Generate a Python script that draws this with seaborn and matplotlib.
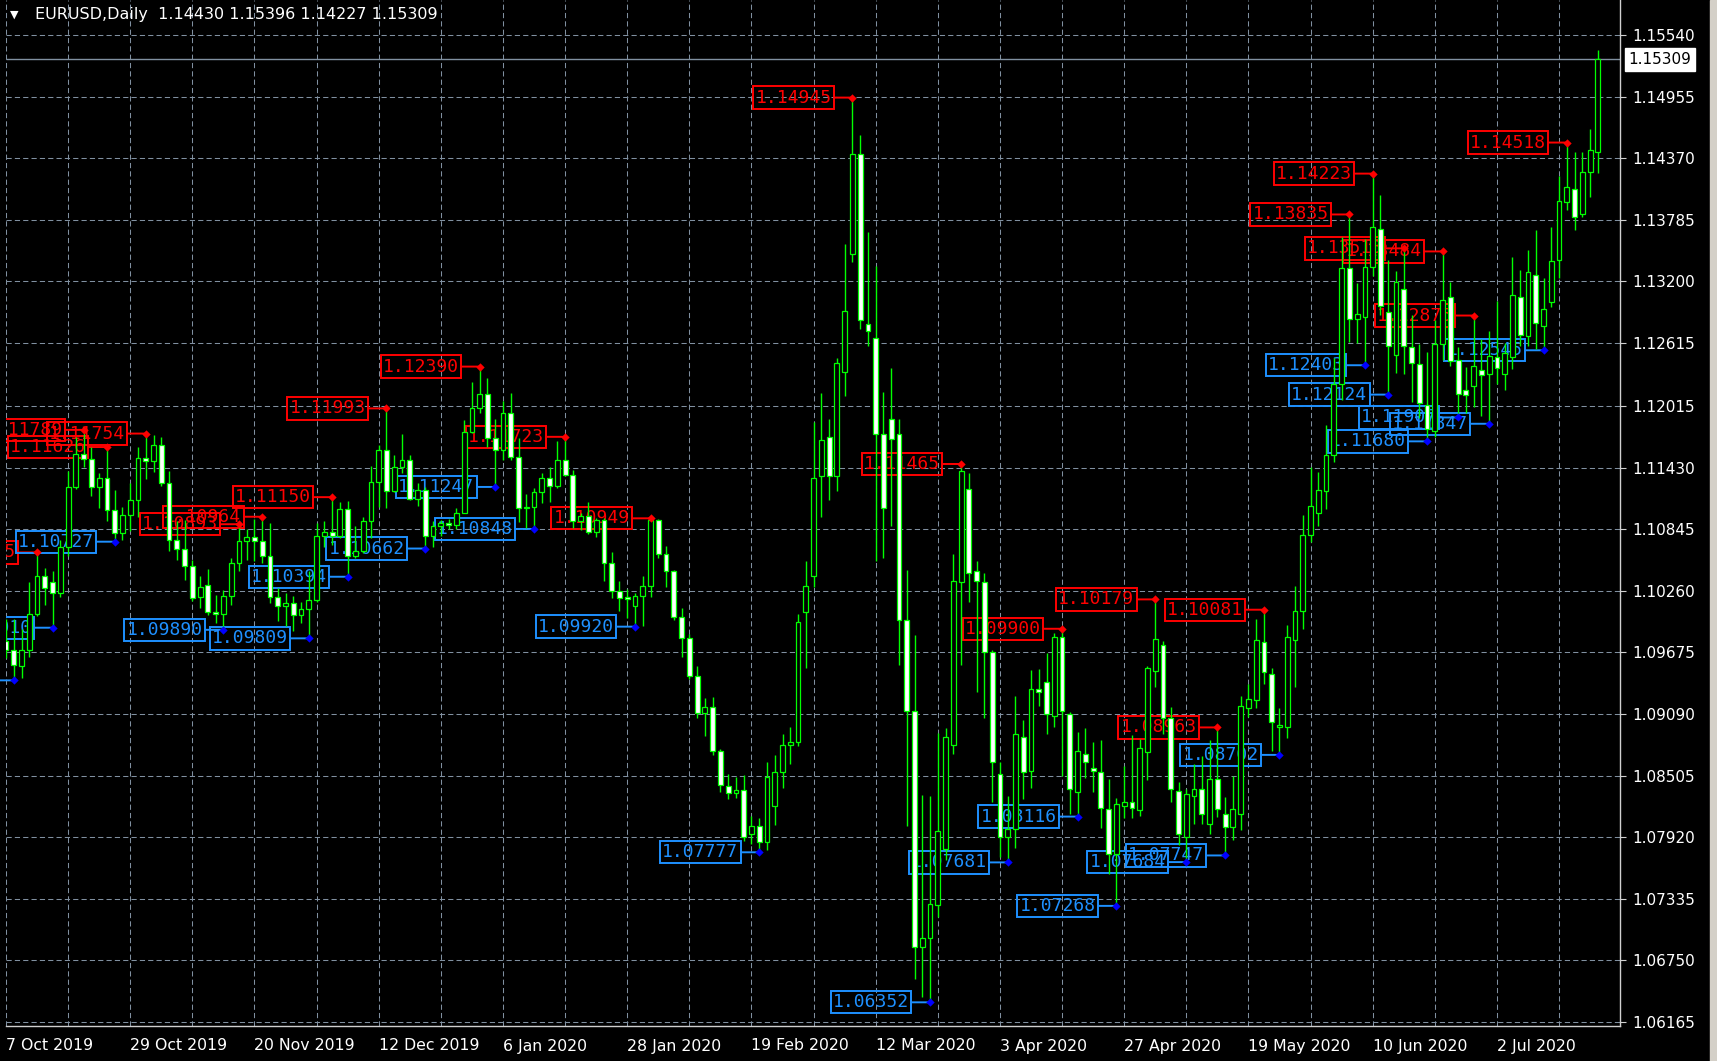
import numpy as np
import pandas as pd
import seaborn as sns
import matplotlib.pyplot as plt
from matplotlib.patches import Rectangle
from matplotlib.ticker import FixedLocator

# EURUSD daily bars, 7 Oct 2019 - 21 Jul 2020 (this feed has no bar on 1 Jan)
dates = pd.bdate_range("2019-10-07", "2020-07-21")
dates = dates[dates != pd.Timestamp("2020-01-01")]

opens = [1.0978, 1.0970, 1.0955, 1.0970, 1.1004, 1.1040, 1.1034, 1.1024, 1.1068, 1.1125,
         1.1156, 1.1151, 1.1125, 1.1133, 1.1103, 1.1081, 1.1098, 1.1112, 1.1152, 1.1149,
         1.1165, 1.1128, 1.1074, 1.1066, 1.1050, 1.1020, 1.1032, 1.1006, 1.1004, 1.1021,
         1.1052, 1.1073, 1.1077, 1.1073, 1.1059, 1.1020, 1.1012, 1.1014, 1.1003, 1.1009,
         1.1017, 1.1078, 1.1082, 1.1078, 1.1104, 1.1059, 1.1064, 1.1092, 1.1129, 1.1160,
         1.1121, 1.1144, 1.1150, 1.1113, 1.1122, 1.1078, 1.1088, 1.1090, 1.1089, 1.1100,
         1.1177, 1.1200, 1.1213, 1.1171, 1.1160, 1.1195, 1.1153, 1.1105, 1.1106, 1.1120,
         1.1133, 1.1126, 1.1150, 1.1136, 1.1092, 1.1097, 1.1082, 1.1093, 1.1052, 1.1026,
         1.1020, 1.1012, 1.1021, 1.1031, 1.1093, 1.1061, 1.1045, 1.1001, 1.0981, 1.0945,
         1.0910, 1.0916, 1.0874, 1.0841, 1.0834, 1.0837, 1.0795, 1.0803, 1.0787, 1.0822,
         1.0854, 1.0880, 1.0882, 1.1006, 1.1040, 1.1135, 1.1172, 1.1135, 1.1234, 1.1346,
         1.1441, 1.1279, 1.1266, 1.1175, 1.1189, 1.1175, 1.0998, 1.0912, 1.0688, 1.0696,
         1.0728, 1.0781, 1.0880, 1.1034, 1.1123, 1.1045, 1.1034, 1.0968, 1.0852, 1.0792,
         1.0800, 1.0887, 1.0855, 1.0933, 1.0939, 1.0907, 1.0982, 1.0909, 1.0835, 1.0871,
         1.0858, 1.0854, 1.0819, 1.0776, 1.0822, 1.0825, 1.0818, 1.0873, 1.0950, 1.0975,
         1.0905, 1.0836, 1.0792, 1.0831, 1.0838, 1.0805, 1.0847, 1.0814, 1.0802, 1.0814,
         1.0915, 1.0922, 1.0977, 1.0947, 1.0897, 1.0897, 1.0979, 1.1007, 1.1079, 1.1100,
         1.1121, 1.1155, 1.1222, 1.1333, 1.1284, 1.1286, 1.1334, 1.1370, 1.1291, 1.1250,
         1.1313, 1.1258, 1.1241, 1.1203, 1.1178, 1.1260, 1.1305, 1.1245, 1.1217, 1.1221,
         1.1236, 1.1232, 1.1248, 1.1232, 1.1248, 1.1305, 1.1268, 1.1326, 1.1278, 1.1300,
         1.1340, 1.1395, 1.1408, 1.1384, 1.1424, 1.14430]
highs = [1.0999, 1.0999, 1.0990, 1.1034, 1.10625, 1.1048, 1.1045, 1.1074, 1.1140, 1.1172,
         1.11789, 1.1163, 1.1138, 1.11626, 1.1122, 1.1106, 1.1128, 1.1163, 1.11754, 1.1174,
         1.1172, 1.1140, 1.1092, 1.1093, 1.1055, 1.1040, 1.1047, 1.1022, 1.1027, 1.1057,
         1.10893, 1.1085, 1.1094, 1.10964, 1.1090, 1.1029, 1.1024, 1.1021, 1.1015, 1.1045,
         1.1090, 1.1092, 1.11150, 1.1110, 1.1111, 1.1088, 1.1096, 1.1145, 1.1165, 1.11993,
         1.1155, 1.1175, 1.1155, 1.1128, 1.1125, 1.1092, 1.1093, 1.1094, 1.1105, 1.1188,
         1.1224, 1.12390, 1.1228, 1.1189, 1.1206, 1.1214, 1.1171, 1.1118, 1.1124, 1.1138,
         1.1144, 1.1168, 1.11723, 1.1141, 1.1100, 1.1110, 1.1095, 1.1095, 1.1063, 1.1035,
         1.1028, 1.1024, 1.1040, 1.10949, 1.1094, 1.1069, 1.1046, 1.1010, 1.0985, 1.0955,
         1.0924, 1.0925, 1.0876, 1.0852, 1.0849, 1.0851, 1.0812, 1.0810, 1.0863, 1.0870,
         1.0890, 1.0897, 1.1004, 1.1054, 1.1186, 1.1214, 1.1189, 1.1247, 1.1355, 1.14945,
         1.1459, 1.1367, 1.1335, 1.1215, 1.1238, 1.1189, 1.1046, 1.0984, 1.0832, 1.0831,
         1.0891, 1.0896, 1.1061, 1.11465, 1.1138, 1.1054, 1.1043, 1.0970, 1.0863, 1.0831,
         1.0926, 1.0903, 1.0951, 1.0952, 1.0967, 1.0986, 1.09900, 1.0911, 1.0892, 1.0896,
         1.0882, 1.0884, 1.0847, 1.0829, 1.0860, 1.0889, 1.0885, 1.0955, 1.10179, 1.0978,
         1.0916, 1.0844, 1.0838, 1.0862, 1.0869, 1.0884, 1.08963, 1.0830, 1.0850, 1.0926,
         1.0938, 1.0999, 1.10081, 1.0953, 1.0915, 1.0994, 1.1031, 1.1098, 1.1144, 1.1139,
         1.1184, 1.1247, 1.1362, 1.13835, 1.1318, 1.1360, 1.14223, 1.1402, 1.1340, 1.1330,
         1.13513, 1.1288, 1.1260, 1.1253, 1.1283, 1.13484, 1.1319, 1.1258, 1.1239, 1.12875,
         1.1265, 1.1273, 1.1301, 1.1261, 1.1343, 1.1331, 1.1350, 1.1369, 1.1323, 1.1372,
         1.1420, 1.14518, 1.1443, 1.1443, 1.1465, 1.15396]
lows = [1.0962, 1.0941, 1.0943, 1.0963, 1.1002, 1.1013, 1.0991, 1.1020, 1.1059, 1.1123,
        1.1144, 1.1116, 1.1105, 1.1092, 1.10727, 1.1074, 1.1083, 1.1096, 1.1132, 1.1139,
        1.1126, 1.1064, 1.1055, 1.1036, 1.1016, 1.1010, 1.1003, 1.0995, 1.0989, 1.1013,
        1.1045, 1.1055, 1.1054, 1.1052, 1.1014, 1.0997, 1.0993, 1.0988, 1.0995, 1.09809,
        1.1015, 1.1068, 1.1070, 1.1076, 1.10394, 1.1057, 1.1062, 1.1076, 1.1106, 1.1105,
        1.1120, 1.1138, 1.1112, 1.1107, 1.10662, 1.1068, 1.1078, 1.1085, 1.1085, 1.1100,
        1.1176, 1.1195, 1.1163, 1.11247, 1.1150, 1.1150, 1.1091, 1.1086, 1.10848, 1.1109,
        1.1110, 1.1124, 1.1135, 1.1086, 1.1084, 1.1080, 1.1077, 1.1035, 1.1019, 1.1007,
        1.1000, 1.0992, 1.0993, 1.1020, 1.1057, 1.1030, 1.0998, 1.0963, 1.0942, 1.0905,
        1.0888, 1.0870, 1.0835, 1.0828, 1.0829, 1.0788, 1.0786, 1.07777, 1.0780, 1.0804,
        1.0839, 1.0862, 1.0879, 1.0953, 1.1030, 1.1096, 1.1112, 1.1121, 1.1211, 1.1338,
        1.1275, 1.1259, 1.1054, 1.1057, 1.1088, 1.0956, 1.0803, 1.0657, 1.0640, 1.06352,
        1.0716, 1.0770, 1.0871, 1.0956, 1.1015, 1.0930, 1.0905, 1.0825, 1.0773, 1.07681,
        1.0782, 1.0828, 1.0839, 1.0917, 1.0890, 1.0897, 1.0850, 1.0814, 1.08116, 1.0848,
        1.0835, 1.0801, 1.0757, 1.07268, 1.0810, 1.0810, 1.0812, 1.0846, 1.0935, 1.0890,
        1.0825, 1.0785, 1.07684, 1.0805, 1.0805, 1.0795, 1.0811, 1.07747, 1.0789, 1.0799,
        1.0906, 1.0915, 1.0938, 1.0874, 1.08702, 1.0886, 1.0935, 1.0990, 1.1072, 1.1088,
        1.1104, 1.1148, 1.1207, 1.1262, 1.1261, 1.12403, 1.1325, 1.1288, 1.12124, 1.1233,
        1.1232, 1.1205, 1.1190, 1.11680, 1.1172, 1.1245, 1.1240, 1.11907, 1.1195, 1.1201,
        1.1192, 1.11847, 1.1222, 1.1217, 1.1237, 1.1259, 1.1259, 1.1256, 1.12545, 1.1296,
        1.1323, 1.1388, 1.1369, 1.1381, 1.1400, 1.14227]
closes = [1.0970, 1.0956, 1.0970, 1.1004, 1.1040, 1.1029, 1.1024, 1.1068, 1.1125, 1.1156,
          1.1151, 1.1125, 1.1133, 1.1103, 1.1081, 1.1098, 1.1112, 1.1152, 1.1149, 1.1165,
          1.1128, 1.1074, 1.1066, 1.1050, 1.1019, 1.1030, 1.1006, 1.1004, 1.1021, 1.1052,
          1.1073, 1.1077, 1.1073, 1.1059, 1.1020, 1.1012, 1.1014, 1.1003, 1.1009, 1.1017,
          1.1078, 1.1082, 1.1078, 1.1104, 1.1059, 1.1064, 1.1092, 1.1129, 1.1160, 1.1121,
          1.1144, 1.1150, 1.1113, 1.1122, 1.1078, 1.1088, 1.1090, 1.1089, 1.1100, 1.1177,
          1.1200, 1.1213, 1.1171, 1.1160, 1.1195, 1.1153, 1.1105, 1.1106, 1.1120, 1.1133,
          1.1126, 1.1150, 1.1136, 1.1092, 1.1097, 1.1082, 1.1093, 1.1052, 1.1026, 1.1019,
          1.1018, 1.1021, 1.1031, 1.1093, 1.1061, 1.1045, 1.1001, 1.0981, 1.0945, 1.0910,
          1.0916, 1.0874, 1.0842, 1.0834, 1.0837, 1.0792, 1.0803, 1.0787, 1.0849, 1.0854,
          1.0880, 1.0882, 1.0996, 1.1031, 1.1133, 1.1169, 1.1135, 1.1242, 1.1292, 1.1441,
          1.1283, 1.1273, 1.1175, 1.1105, 1.1170, 1.0998, 1.0912, 1.0688, 1.0696, 1.0729,
          1.0798, 1.0887, 1.1035, 1.1140, 1.1043, 1.1035, 1.0968, 1.0863, 1.0792, 1.0800,
          1.0890, 1.0854, 1.0933, 1.0930, 1.0909, 1.0982, 1.0912, 1.0838, 1.0874, 1.0863,
          1.0855, 1.0820, 1.0776, 1.0824, 1.0825, 1.0820, 1.0877, 1.0953, 1.0980, 1.0905,
          1.0838, 1.0795, 1.0833, 1.0838, 1.0814, 1.0847, 1.0819, 1.0802, 1.0819, 1.0917,
          1.0923, 1.0979, 1.0949, 1.0901, 1.0899, 1.0982, 1.1007, 1.1079, 1.1107, 1.1122,
          1.1155, 1.1222, 1.1333, 1.1284, 1.1289, 1.1334, 1.1372, 1.1297, 1.1259, 1.1319,
          1.1259, 1.1242, 1.1204, 1.1180, 1.1260, 1.1302, 1.1244, 1.1213, 1.1212, 1.1240,
          1.1231, 1.1249, 1.1238, 1.1252, 1.1307, 1.1269, 1.1329, 1.1280, 1.1294, 1.1339,
          1.1396, 1.1410, 1.1381, 1.1424, 1.1445, 1.15309]

# swing highs / lows marked on the chart (bar index, price)
peak_bars = [4, 10, 13, 18, 30, 33, 42, 49, 61, 72, 83, 109, 123, 136, 148, 156,
             162, 173, 176, 180, 185, 189, 201]
peak_prices = [1.10625, 1.11789, 1.11626, 1.11754, 1.10893, 1.10964, 1.11150, 1.11993,
               1.12390, 1.11723, 1.10949, 1.14945, 1.11465, 1.09900, 1.10179, 1.08963,
               1.10081, 1.13835, 1.14223, 1.13513, 1.13484, 1.12875, 1.14518]
trough_bars = [1, 6, 14, 28, 39, 44, 54, 63, 68, 81, 97, 119, 129, 138, 143, 152, 157,
               164, 175, 178, 183, 187, 191, 198]
trough_prices = [1.09410, 1.09910, 1.10727, 1.09890, 1.09809, 1.10394, 1.10662, 1.11247,
                 1.10848, 1.09920, 1.07777, 1.06352, 1.07681, 1.08116, 1.07268, 1.07684,
                 1.07747, 1.08702, 1.12403, 1.12124, 1.11680, 1.11907, 1.11847, 1.12545]

price_ticks = [1.15540, 1.14955, 1.14370, 1.13785, 1.13200, 1.12615, 1.12015, 1.11430,
               1.10845, 1.10260, 1.09675, 1.09090, 1.08505, 1.07920, 1.07335, 1.06750,
               1.06165]
last_bid = 1.15309

LIME = "#00ff00"
RED = "#ff0000"
BLUE = "#1e90ff"
GRID = "#8090a0"
FRAME = "#d0d0d0"

sns.set_style("dark")
plt.rcParams["font.family"] = "DejaVu Sans"
plt.rcParams["lines.solid_capstyle"] = "butt"

W, H = 1717, 1061
fig = plt.figure(figsize=(W / 100, H / 100), dpi=100, facecolor="black")
ax = fig.add_axes([6 / W, (H - 1026) / H, (1620 - 6) / W, 1026 / H])
ax.set_facecolor("black")

o = np.array(opens)
h = np.array(highs)
l = np.array(lows)
c = np.array(closes)
bars = np.arange(len(o))

# wicks
wicks = pd.DataFrame({"bar": np.repeat(bars, 2),
                      "price": np.column_stack([l, h]).ravel()})
sns.lineplot(data=wicks, x="bar", y="price", units="bar", estimator=None,
             sort=False, color=LIME, lw=1.0, ax=ax, legend=False, zorder=3)

# bodies: bull = black, bear = white
bull = c >= o
ax.bar(bars, np.abs(c - o), bottom=np.minimum(o, c), width=0.62,
       color=np.where(bull, "black", "white"), edgecolor=LIME, linewidth=0.9,
       zorder=4)

# swing labels
def mark(idx, prices, col, dot_col):
    for i, p in zip(idx, prices):
        ax.annotate(f"{p:.5f}", xy=(i, p), xytext=(-15, 0),
                    textcoords="offset points", ha="right", va="center",
                    color=col, fontsize=13, family="DejaVu Sans Mono",
                    bbox=dict(boxstyle="square,pad=0.12", fc="none", ec=col, lw=1.4),
                    arrowprops=dict(arrowstyle="-", color=col, lw=1.4,
                                    shrinkA=0, shrinkB=0),
                    clip_on=True, zorder=2)
    sns.scatterplot(x=idx, y=prices, color=dot_col, marker="D", s=18,
                    linewidth=0, ax=ax, zorder=5, legend=False)

mark(peak_bars, peak_prices, RED, RED)
mark(trough_bars, trough_prices, BLUE, "#0000ff")

# last bid line
ax.axhline(last_bid, color=GRID, lw=1.0, zorder=1)

ax.set_xlim(0.13, 207.85)
ax.set_ylim(1.061271, 1.158719)

# price axis on the right
ax.yaxis.tick_right()
ax.set_yticks(price_ticks)
ax.set_yticklabels([f"{v:.5f}" for v in price_ticks])
ax.tick_params(axis="y", colors=FRAME, labelcolor="white", length=4, width=0.8,
               pad=5, labelsize=11, direction="out")

# date axis
major = list(range(0, len(dates), 16))
ax.set_xticks(major)
ax.set_xticklabels([f"{dates[k].day} {dates[k]:%b %Y}" for k in major])
for t in ax.get_xticklabels():
    t.set_ha("left")
ax.xaxis.set_minor_locator(FixedLocator(list(range(8, len(dates), 16))))
ax.tick_params(axis="x", which="major", colors=FRAME, labelcolor="white",
               length=6, width=0.8, pad=3, labelsize=11.3, direction="out")
ax.tick_params(axis="x", which="minor", length=0)

ax.set_axisbelow(True)
ax.grid(True, which="both", color=GRID, linestyle=(0, (5, 3)), linewidth=0.75)
ax.set_xlabel("")
ax.set_ylabel("")

for side in ["left", "top"]:
    ax.spines[side].set_visible(False)
for side in ["bottom", "right"]:
    ax.spines[side].set_visible(True)
    ax.spines[side].set_color(FRAME)
    ax.spines[side].set_linewidth(1.0)

# current price box
ax.annotate(f"{last_bid:.5f}", xy=(1, last_bid), xycoords=("axes fraction", "data"),
            xytext=(6, 0), textcoords="offset points", ha="left", va="center",
            color="black", fontsize=11,
            bbox=dict(boxstyle="square,pad=0.25", fc="white", ec="white"),
            annotation_clip=False)

# header
fig.text(10 / W, 1 - 15 / H, "\u25bc", color="white", fontsize=8, va="center")
fig.text(35 / W, 1 - 15 / H,
         f"EURUSD,Daily  {opens[-1]:.5f} {highs[-1]:.5f} {lows[-1]:.5f} {closes[-1]:.5f}",
         color="white", fontsize=11.5, va="center")

# window frame at the right edge
fig.patches.append(Rectangle((1710 / W, 0), 7 / W, 1, transform=fig.transFigure,
                             color="#d4d0c8", zorder=10))

fig.savefig("out.png", dpi=100, facecolor="black")
